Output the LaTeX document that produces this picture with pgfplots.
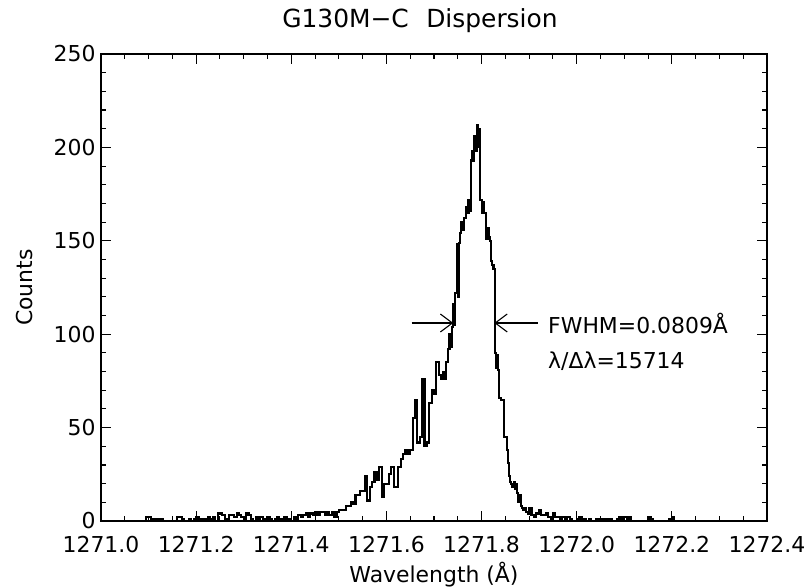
\documentclass[border=0pt]{standalone}
\usepackage{pgfplots}
\pgfplotsset{compat=1.18}
\usepackage{fontspec}
\setmainfont{DejaVu Sans}
\usetikzlibrary{arrows.meta}
% wavelength given as offset from 1271.000 Angstrom (for numerical precision)
\begin{document}
\begin{tikzpicture}
\path[use as bounding box] (-101bp,-67bp) rectangle (708bp,521bp);
\begin{axis}[
  at={(0,0)}, anchor=south west,
  scale only axis, width=666bp, height=467bp,
  xmin=0, xmax=1.4, ymin=0, ymax=250,
  xtick={0,0.2,0.4,0.6,0.8,1.0,1.2,1.4},
  xticklabels={1271.0,1271.2,1271.4,1271.6,1271.8,1272.0,1272.2,1272.4},
  ytick={0,50,100,150,200,250},
  minor x tick num=3, minor y tick num=4,
  tick align=inside,
  major tick length=10bp, minor tick length=5bp,
  axis line style={line width=1.3bp},
  every tick/.style={black, line width=1.1bp},
  every minor tick/.style={black, line width=1.1bp},
  tick label style={font=\fontsize{22}{26}\selectfont},
  /pgf/number format/assume math mode=true,
  xticklabel style={yshift=-12bp},
  yticklabel style={xshift=-2bp},
]
\addplot[const plot, line width=2.1bp, black] table {
x y
0.090 0
0.095 2
0.100 2
0.105 0
0.110 1
0.115 0
0.120 1
0.125 1
0.130 0
0.135 0
0.140 0
0.145 0
0.150 0
0.155 0
0.160 2
0.165 2
0.170 1
0.175 0
0.180 0
0.185 1
0.190 0
0.195 1
0.200 2
0.205 1
0.210 0
0.215 1
0.220 0
0.225 2
0.230 1
0.235 2
0.240 0
0.245 4
0.250 4
0.255 3
0.260 0
0.265 1
0.270 3
0.275 3
0.280 2
0.285 4
0.290 3
0.295 2
0.300 1
0.305 4
0.310 3
0.315 1
0.320 0
0.325 2
0.330 1
0.335 2
0.340 1
0.345 0
0.350 2
0.355 1
0.360 0
0.365 1
0.370 2
0.375 1
0.380 0
0.385 2
0.390 0
0.395 1
0.400 0
0.405 2
0.410 1
0.415 3
0.420 2
0.425 3
0.430 4
0.435 2
0.440 4
0.445 3
0.450 5
0.455 3
0.460 5
0.465 5
0.470 3
0.475 5
0.480 3
0.485 5
0.490 2
0.495 5
0.500 6
0.505 6
0.510 6
0.515 8
0.520 8
0.525 10
0.530 9
0.535 14
0.540 14
0.545 16
0.550 16
0.555 24
0.560 11
0.565 18
0.570 21
0.575 26
0.580 22
0.585 29
0.590 13
0.595 20
0.600 20
0.605 25
0.610 29
0.615 18
0.620 18
0.625 29
0.630 33
0.635 36
0.640 38
0.645 36
0.650 38
0.655 55
0.660 65
0.665 42
0.670 45
0.675 76
0.680 40
0.685 42
0.690 63
0.695 70
0.700 68
0.705 85
0.710 78
0.715 76
0.7200 80
0.7225 76
0.7250 85
0.7275 85
0.7300 92
0.7325 100
0.7350 93
0.7375 104
0.7400 116
0.7425 105
0.7450 122
0.7475 148
0.7500 120
0.7525 149
0.7550 154
0.7575 160
0.7600 156
0.7625 162
0.7650 162
0.7675 168
0.7700 165
0.7725 172
0.7750 166
0.7775 193
0.7800 198
0.7825 193
0.7850 206
0.7875 198
0.7900 212
0.7925 200
0.7950 210
0.7975 172
0.8000 165
0.8025 171
0.8050 165
0.8075 165
0.8100 151
0.8125 157
0.8150 152
0.8175 150
0.8200 139
0.8225 137
0.8250 135
0.8275 90
0.8300 82
0.8325 89
0.8350 81
0.8375 66
0.8400 65
0.8425 65
0.8450 65
0.8475 45
0.8500 45
0.8525 38
0.8550 31
0.8575 24
0.8600 21
0.8625 20
0.8650 18
0.8675 21
0.8700 17
0.8725 20
0.8750 15
0.8775 10
0.8800 14
0.8825 8
0.8850 7
0.8875 6
0.8900 7
0.8925 5
0.8950 5
0.8975 4
0.900 7
0.905 3
0.910 2
0.915 4
0.920 6
0.925 3
0.930 3
0.935 4
0.940 2
0.945 1
0.950 4
0.955 2
0.960 2
0.965 0
0.970 2
0.975 0
0.980 2
0.985 1
0.990 0
0.995 0
1.000 1
1.005 2
1.010 1
1.015 1
1.020 0
1.025 1
1.030 0
1.035 0
1.040 1
1.045 1
1.050 0
1.055 1
1.060 1
1.065 0
1.070 1
1.075 0
1.080 0
1.085 1
1.090 2
1.095 0
1.100 2
1.105 1
1.110 2
1.115 0
1.120 0
1.125 0
1.130 0
1.135 0
1.140 0
1.145 0
1.150 2
1.155 1
1.160 0
1.165 0
1.170 0
1.175 0
1.180 0
1.185 0
1.190 0
1.195 1
1.200 2
1.205 0
1.210 0
1.215 0
1.220 0
};
\draw[line width=1.1bp, -{Straight Barb[length=12bp, width=18bp]}] (axis cs:0.653,106) -- (axis cs:0.7406,106);
\draw[line width=1.1bp, -{Straight Barb[length=12bp, width=18bp]}] (axis cs:0.9186,106) -- (axis cs:0.8268,106);
\node[anchor=west, inner sep=0pt, font=\fontsize{22}{26}\selectfont] at (axis cs:0.9397,105.7) {FWHM=0.0809Å};
\node[anchor=west, inner sep=0pt, font=\fontsize{22}{26}\selectfont] at (axis cs:0.9397,85.6) {λ/Δλ=15714};
\end{axis}
\node[anchor=base, font=\fontsize{25}{30}\selectfont] at (319bp,493bp) {G130M−C\hspace{0.7em}Dispersion};
\node[rotate=90, font=\fontsize{22}{26}\selectfont] at (-76bp,233.5bp) {Counts};
\node[anchor=base, font=\fontsize{22}{26}\selectfont] at (333bp,-61bp) {Wavelength (Å)};
\end{tikzpicture}
\end{document}
